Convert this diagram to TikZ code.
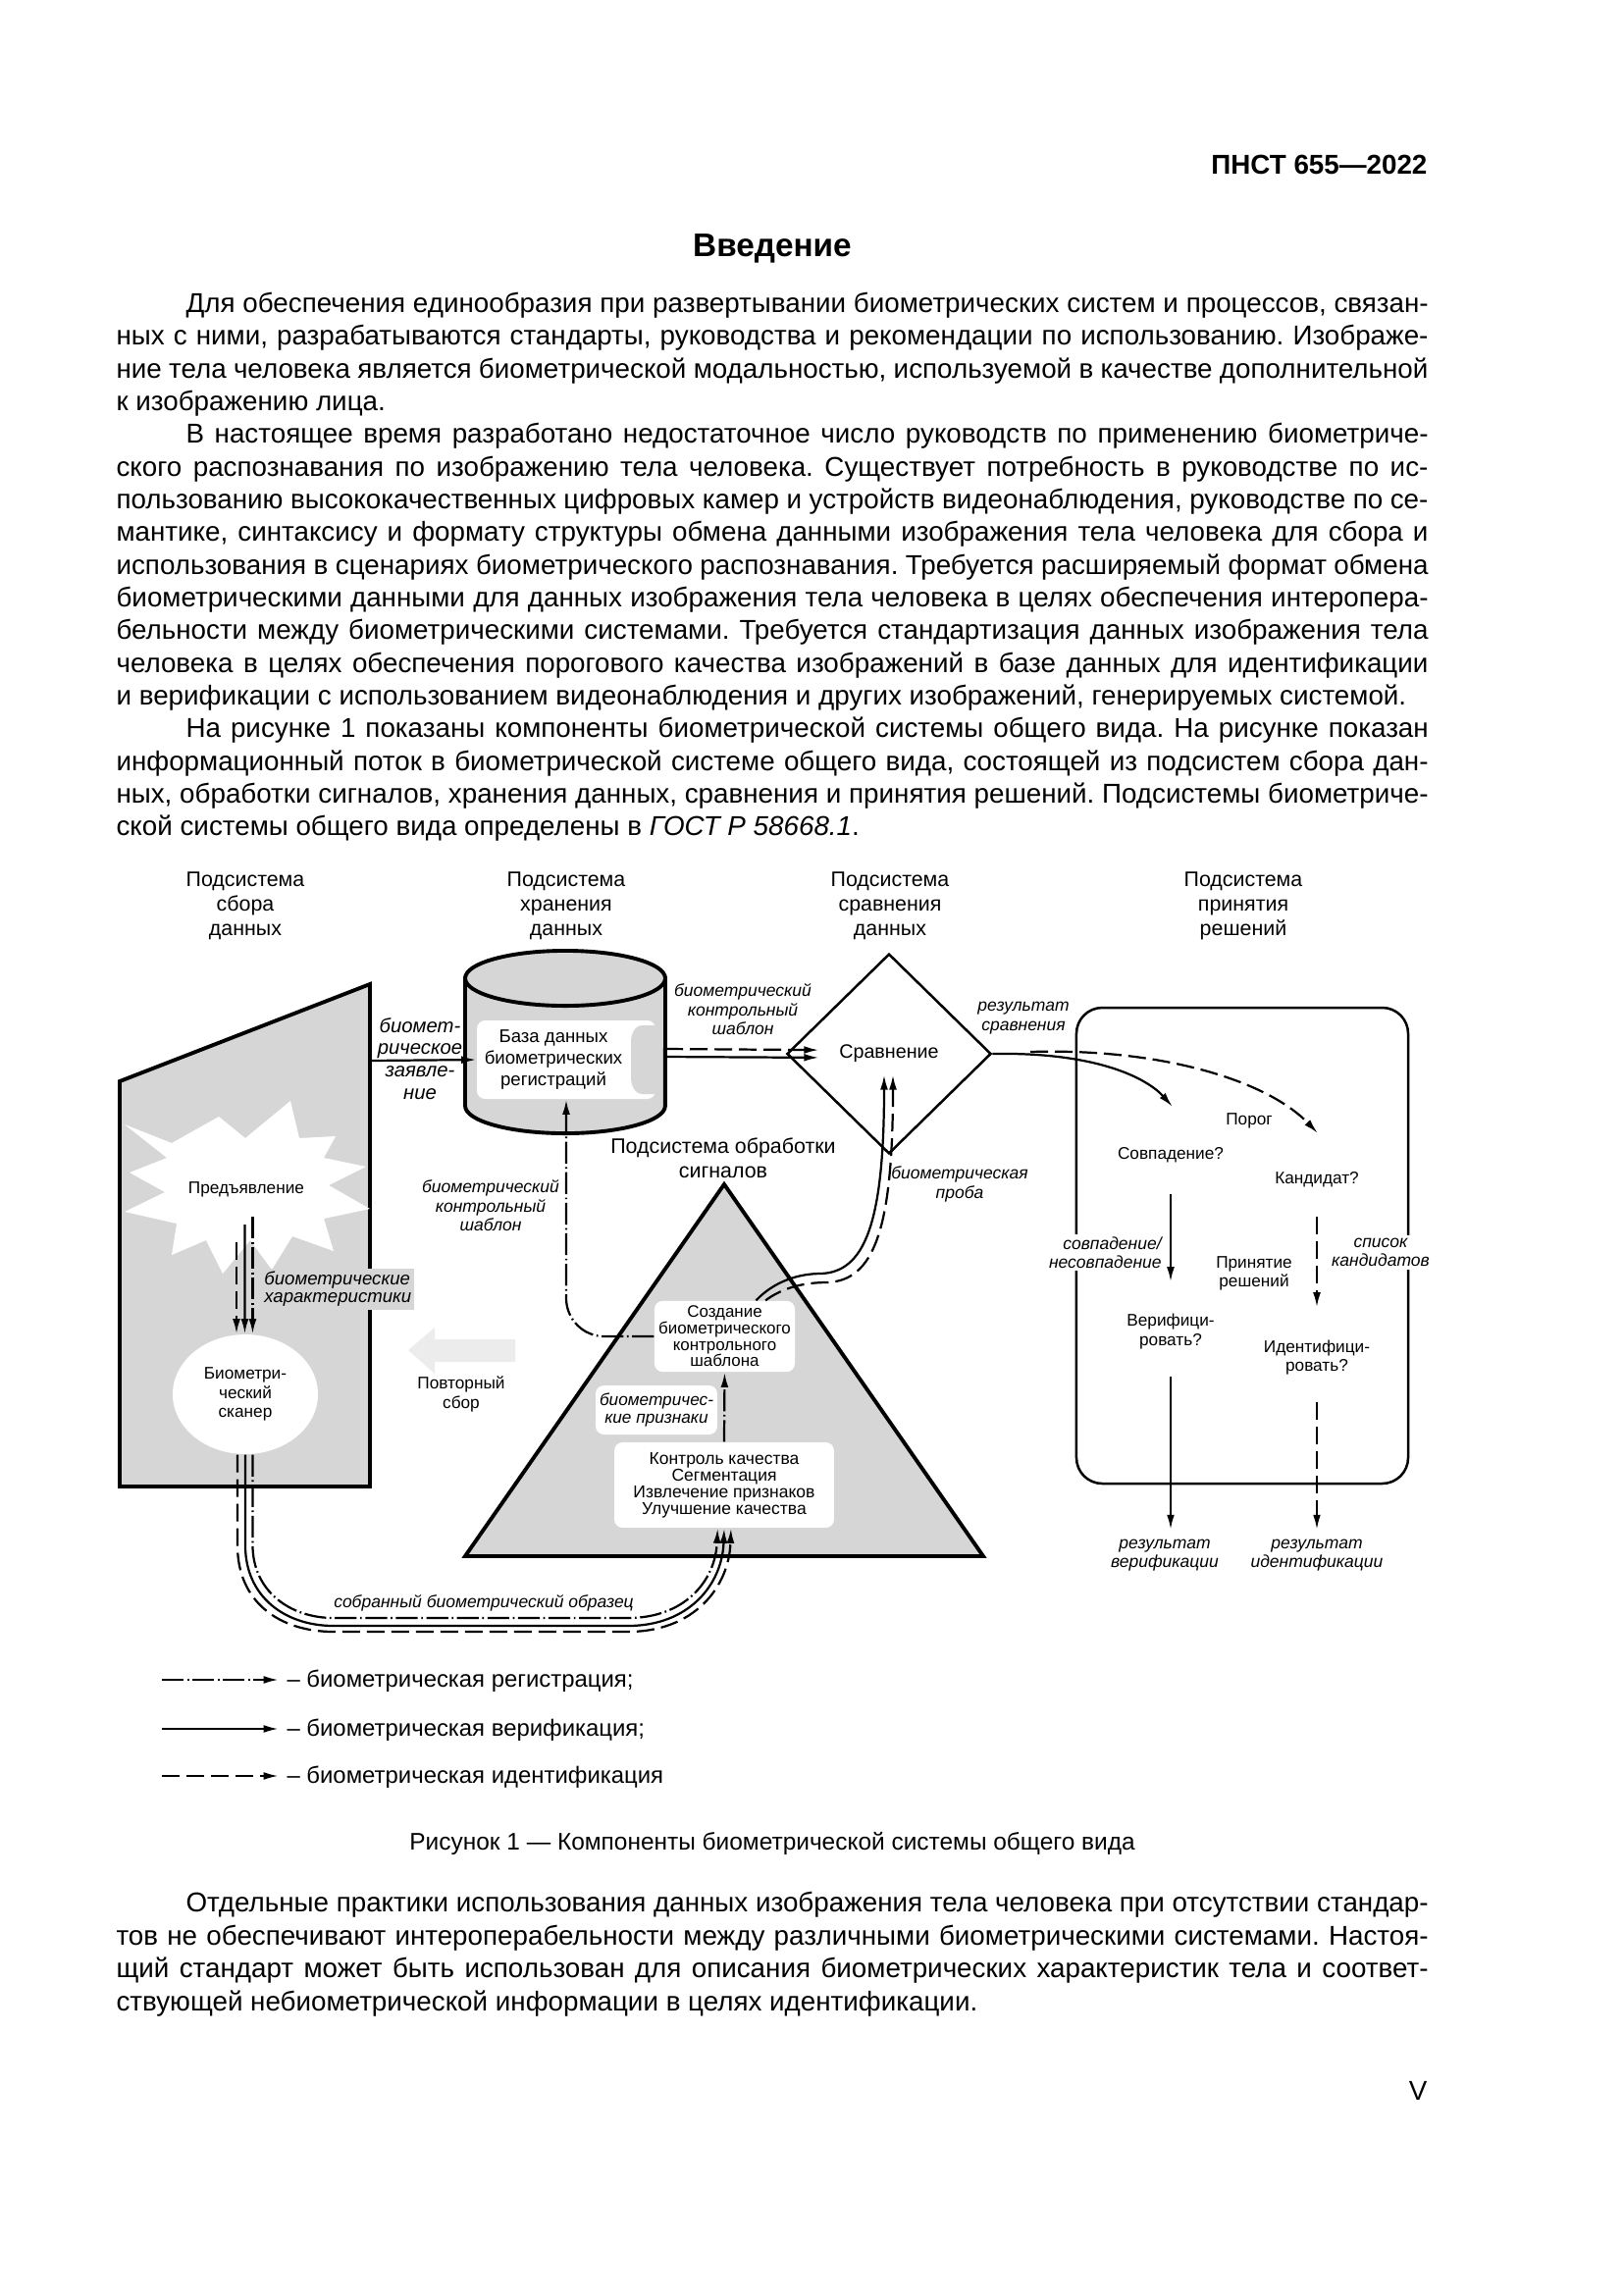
\documentclass[tikz,border=0pt]{standalone}
\usepackage{fontspec}
\setmainfont{Liberation Sans}
\usetikzlibrary{arrows.meta,shapes.geometric,calc}
\definecolor{boxgray}{RGB}{214,214,214}
\definecolor{pale}{RGB}{236,236,236}
\frenchspacing
\begin{document}
\begin{tikzpicture}[x=0.36pt,y=-0.36pt,
  sub/.style={font=\fontsize{7.7pt}{9pt}\selectfont, align=center, inner sep=0pt},
  txt/.style={font=\fontsize{6.2pt}{7pt}\selectfont, align=center, inner sep=1pt},
  lab/.style={font=\fontsize{6.3pt}{7pt}\selectfont\itshape, align=center, inner sep=1pt},
  body/.style={anchor=base west, inner sep=0pt, font=\fontsize{10pt}{12pt}\selectfont},
  leg/.style={anchor=base west, inner sep=0pt, font=\fontsize{8.6pt}{10pt}\selectfont},
  reg/.style={line width=0.8pt, dash pattern=on 8pt off 1.3pt on 0.6pt off 1.3pt},
  ver/.style={line width=0.8pt},
  ide/.style={line width=0.8pt, dash pattern=on 6.5pt off 2.5pt},
  arr/.style={-{Latex[length=5.5pt,width=2.8pt]}},
  wbox/.style={fill=white, rounded corners=3pt, inner sep=0pt, align=center},
  heavy/.style={line width=1.4pt},
]
\useasboundingbox (0,0) rectangle (1654,2339);
\fill[white] (0,0) rectangle (1654,2339);

% ---------------- page text ----------------
\node[anchor=base east, inner sep=0pt, font=\bfseries\fontsize{10pt}{12pt}\selectfont] (hdr) at (1455,177) {ПНСТ 655—2022};
\node[anchor=base, inner sep=0pt, font=\bfseries\fontsize{12pt}{14pt}\selectfont] (ttl) at (787,261) {Введение};

\node[body] (b01) at (189,318.6) {\makebox[455.8pt][s]{Для обеспечения единообразия при развертывании биометрических систем и процессов, связан-}};
\node[body] (b02) at (118,351.9) {\makebox[481.3pt][s]{ных с ними, разрабатываются стандарты, руководства и рекомендации по использованию. Изображе-}};
\node[body] (b03) at (118,385.3) {\makebox[481.3pt][s]{ние тела человека является биометрической модальностью, используемой в качестве дополнительной}};
\node[body] (b04) at (118,418.6) {к изображению лица.};
\node[body] (b05) at (189,451.9) {\makebox[455.8pt][s]{В настоящее время разработано недостаточное число руководств по применению биометриче-}};
\node[body] (b06) at (118,485.3) {\makebox[481.3pt][s]{ского распознавания по изображению тела человека. Существует потребность в руководстве по ис-}};
\node[body] (b07) at (118,518.6) {\makebox[481.3pt][s]{пользованию высококачественных цифровых камер и устройств видеонаблюдения, руководстве по се-}};
\node[body] (b08) at (118,551.9) {\makebox[481.3pt][s]{мантике, синтаксису и формату структуры обмена данными изображения тела человека для сбора и}};
\node[body] (b09) at (118,585.3) {\makebox[481.3pt][s]{использования в сценариях биометрического распознавания. Требуется расширяемый формат обмена}};
\node[body] (b10) at (118,618.6) {\makebox[481.3pt][s]{биометрическими данными для данных изображения тела человека в целях обеспечения интеропера-}};
\node[body] (b11) at (118,651.9) {\makebox[481.3pt][s]{бельности между биометрическими системами. Требуется стандартизация данных изображения тела}};
\node[body] (b12) at (118,685.3) {\makebox[481.3pt][s]{человека в целях обеспечения порогового качества изображений в базе данных для идентификации}};
\node[body] (b13) at (118,718.6) {и верификации с использованием видеонаблюдения и других изображений, генерируемых системой.};
\node[body] (b14) at (189,751.9) {\makebox[455.8pt][s]{На рисунке 1 показаны компоненты биометрической системы общего вида. На рисунке показан}};
\node[body] (b15) at (118,785.3) {\makebox[481.3pt][s]{информационный поток в биометрической системе общего вида, состоящей из подсистем сбора дан-}};
\node[body] (b16) at (118,818.6) {\makebox[481.3pt][s]{ных, обработки сигналов, хранения данных, сравнения и принятия решений. Подсистемы биометриче-}};
\node[body] (b17) at (118,851.9) {ской системы общего вида определены в \textit{ГОСТ Р 58668.1}.};

\node[anchor=base, inner sep=0pt, font=\fontsize{8.8pt}{10pt}\selectfont] (cap) at (787,1885) {Рисунок 1 — Компоненты биометрической системы общего вида};

\node[body] (c01) at (189,1948.6) {\makebox[455.8pt][s]{Отдельные практики использования данных изображения тела человека при отсутствии стандар-}};
\node[body] (c02) at (118,1982.2) {\makebox[481.3pt][s]{тов не обеспечивают интероперабельности между различными биометрическими системами. Настоя-}};
\node[body] (c03) at (118,2015.8) {\makebox[481.3pt][s]{щий стандарт может быть использован для описания биометрических характеристик тела и соответ-}};
\node[body] (c04) at (118,2049.4) {ствующей небиометрической информации в целях идентификации.};
\node[anchor=base east, inner sep=0pt, font=\fontsize{10pt}{12pt}\selectfont] (pg) at (1455,2140) {V};

% ---------------- subsystem headings ----------------
\node[sub] (h1) at (250,923) {Подсистема\\сбора\\данных};
\node[sub] (h2) at (577,923) {Подсистема\\хранения\\данных};
\node[sub] (h3) at (907,923) {Подсистема\\сравнения\\данных};
\node[sub] (h4) at (1267,923) {Подсистема\\принятия\\решений};
\node[sub] (h5) at (737,1180.5) {Подсистема обработки\\сигналов};

% ---------------- capture subsystem ----------------
\filldraw[fill=boxgray, heavy] (122,1102) -- (377,1003) -- (377,1515) -- (122,1515) -- cycle;
\fill[white] (127,1146) -- (175,1165) -- (223,1138) -- (250,1160) -- (296,1122) -- (305,1160)
  -- (342,1158) -- (330,1180) -- (373,1189) -- (335,1208) -- (377,1232) -- (330,1242)
  -- (340,1275) -- (298,1260) -- (277,1294) -- (255,1264) -- (227,1298) -- (210,1264)
  -- (175,1279) -- (180,1247) -- (127,1235) -- (168,1215) -- (132,1195) -- (170,1180) -- cycle;
\node[txt] (pres) at (251,1212) {Предъявление};
\node[ellipse, fill=white, minimum width=53.3pt, minimum height=43.9pt, inner sep=0pt,
  font=\fontsize{6.2pt}{7pt}\selectfont, align=center] (scan) at (250,1421) {Биометри-\\ческий\\сканер};

% ---------------- storage subsystem ----------------
\filldraw[fill=boxgray, heavy] (474,997) -- (474,1127)
  arc[start angle=180, end angle=360, x radius=36.7pt, y radius=10.1pt] -- (678,997) -- cycle;
\filldraw[fill=boxgray, heavy] (576,997) ellipse[x radius=36.7pt, y radius=10.1pt];
\node[wbox, minimum width=65.5pt, minimum height=28.8pt] (db) at (577,1080) {};
\fill[boxgray] (668,1045) -- (655,1045) to[out=180,in=90] (643,1062) -- (643,1098)
  to[out=-90,in=180] (655,1115) -- (668,1115) -- cycle;
\node[font=\fontsize{6.7pt}{8pt}\selectfont, align=center, inner sep=0pt] (dbt) at (564,1080) {База данных\\биометрических\\регистраций};
\coordinate (dbr1) at (678,1069);
\coordinate (dbr2) at (678,1077);
\coordinate (lsr) at (377,1081);

% ---------------- comparison subsystem ----------------
\node[diamond, draw, line width=0.9pt, fill=white, minimum width=74.9pt, minimum height=73.4pt,
  inner sep=0pt, aspect=1, font=\fontsize{7.1pt}{8pt}\selectfont] (cmp) at (906,1074) {Сравнение};

% ---------------- signal processing subsystem ----------------
\filldraw[fill=boxgray, heavy] (474,1586) -- (738,1207) -- (1002,1586) -- cycle;
\node[wbox, minimum width=51.5pt, minimum height=26pt, font=\fontsize{6.1pt}{6pt}\selectfont] (create) at (738.5,1362)
  {Создание\\биометрического\\контрольного\\шаблона};
\node[wbox, minimum width=80.6pt, minimum height=31.3pt, font=\fontsize{6.3pt}{6.15pt}\selectfont] (ctrl) at (738,1513.5)
  {Контроль качества\\Сегментация\\Извлечение признаков\\Улучшение качества};
\node[wbox, minimum width=44.6pt, minimum height=18pt, font=\fontsize{6.2pt}{6.3pt}\selectfont\itshape] (feat) at (669,1437)
  {биометричес-\\кие признаки};

% re-capture arrow
\fill[pale] (416,1376) -- (443,1353) -- (443,1365) -- (525,1365) -- (525,1388) -- (443,1388) -- (443,1400) -- cycle;
\node[txt] (rep) at (470,1421) {Повторный\\сбор};

% ---------------- decision subsystem ----------------
\node[draw, line width=0.9pt, rounded corners=9.5pt, minimum width=121.7pt, minimum height=174.6pt, inner sep=0pt] (dec) at (1266,1269.5) {};
\node[txt] (thr) at (1273,1142) {Порог};
\node[txt] (match) at (1193,1177) {Совпадение?};
\node[txt] (cand) at (1342,1202) {Кандидат?};
\node[txt] (verify) at (1193,1357) {Верифици-\\ровать?};
\node[txt] (ident) at (1342,1383.5) {Идентифици-\\ровать?};
\node[txt] (decl) at (1278,1298) {Принятие\\решений};
\node[lab, fill=white, anchor=east, align=right] (mm) at (1187,1276.5) {совпадение/\\несовпадение};
\node[lab, fill=white] (cl) at (1407,1276.5) {список\\кандидатов};
\node[lab] (rv) at (1187,1585) {результат\\верификации};
\node[lab] (ri) at (1342,1585) {результат\\идентификации};

% ---------------- connectors ----------------
% presentation -> scanner
\coordinate (sa) at (241,1266);
\coordinate (sb) at (249.5,1248);
\coordinate (sc) at (257.5,1240);
\draw[ide,arr] (sa) -- ([xshift=-3.24pt]scan.north);
\draw[ver,arr] (sb) -- ([xshift=-0.18pt]scan.north);
\draw[reg,arr] (sc) -- ([xshift=2.7pt]scan.north);
\node[lab, fill=boxgray, anchor=west, align=left, font=\fontsize{6.7pt}{6.5pt}\selectfont\itshape] (chars) at (266,1314)
  {биометрические\\характеристики};

% scanner -> signal processing
\draw[ide,arr] ([xshift=-2.9pt]scan.south) -- (242,1575) .. controls (242,1633) and (285,1663) .. (340,1663)
  -- (640,1663) .. controls (707,1663) and (743,1618) .. ([xshift=2.5pt]ctrl.south);
\draw[ver,arr] (scan.south) -- (250,1575) .. controls (250,1627) and (290,1657) .. (340,1657)
  -- (640,1657) .. controls (702,1657) and (736,1615) .. (ctrl.south);
\draw[reg,arr] ([xshift=2.7pt]scan.south) -- (257.5,1575) .. controls (257.5,1621) and (295,1649) .. (340,1649)
  -- (640,1649) .. controls (697,1649) and (729,1612) .. ([xshift=-2.4pt]ctrl.south);
\node[lab] (samp) at (493,1634) {собранный биометрический образец};

% features -> template
\draw[reg,arr] (ctrl.north) -- (create.south);

% enrolment template -> database
\draw[reg,arr,rounded corners=14pt] (create.west) -| (db.south);
\node[lab] (tpl1) at (500,1229) {биометрический\\контрольный\\шаблон};

% claim -> database
\draw[ver,arr] (lsr) -- (db.west);
\node[font=\fontsize{7.3pt}{8.2pt}\selectfont\itshape, align=center, inner sep=0pt] (claim) at (428,1079)
  {биомет-\\рическое\\заявле-\\ние};

% database -> comparison
\draw[ide,arr] (dbr1) -- ([xshift=12.2pt,yshift=1.4pt]cmp.west);
\draw[ver,arr] (dbr2) -- ([xshift=12.2pt,yshift=-1.4pt]cmp.west);
\node[lab] (tpl2) at (757,1029) {биометрический\\контрольный\\шаблон};

% probe -> comparison
\draw[ver,arr] ([xshift=11.5pt]create.north) .. controls (790,1305) and (815,1298) .. (837,1298)
  .. controls (880,1296) and (901,1250) .. ([xshift=-1.8pt,yshift=29.5pt]cmp.south);
\draw[ide,arr] ([xshift=15pt]create.north) .. controls (798,1312) and (820,1307) .. (843,1307)
  .. controls (890,1305) and (910,1255) .. ([xshift=1.44pt,yshift=29.5pt]cmp.south);
\node[lab] (probe) at (978,1207) {биометрическая\\проба};

% comparison -> decision
\coordinate (thm) at (1195,1128);
\coordinate (thc) at (1343,1155);
\coordinate (brk) at (1050,1072);
\draw[ver,arr] (cmp.east) .. controls (1120,1072) and (1170,1100) .. (thm);
\draw[ide,arr] (brk) .. controls (1180,1068) and (1290,1100) .. (thc);
\node[lab] (cres) at (1043,1037.5) {результат\\сравнения};

% decision internal
\draw[ver,arr,shorten <=10.4pt,shorten >=10.6pt] (match.south) -- (verify.north);
\draw[ide,arr,shorten <=9.7pt,shorten >=10.8pt] (cand.south) -- (ident.north);
\draw[ver,arr,shorten <=8.8pt,shorten >=2.3pt] (verify.south) -- (verify.south |- rv.north);
\draw[ide,arr,shorten <=8.7pt,shorten >=2.3pt] (ident.south) -- (ri.north);

% ---------------- legend ----------------
\coordinate (l1a) at (165,1712); \coordinate (l1b) at (284,1712);
\coordinate (l2a) at (165,1762); \coordinate (l2b) at (284,1762);
\coordinate (l3a) at (165,1810); \coordinate (l3b) at (284,1810);
\draw[reg,arr] (l1a) -- (l1b);
\draw[ver,arr] (l2a) -- (l2b);
\draw[ide,arr] (l3a) -- (l3b);
\node[leg] (lt1) at (292,1719) {– биометрическая регистрация;};
\node[leg] (lt2) at (292,1769) {– биометрическая верификация;};
\node[leg] (lt3) at (292,1817) {– биометрическая идентификация};
\end{tikzpicture}
\end{document}
